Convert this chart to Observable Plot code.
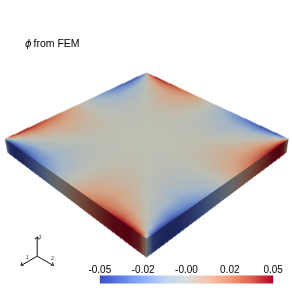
<!DOCTYPE html>
<html><head><meta charset="utf-8">
<style>html,body{margin:0;padding:0;background:#fff}svg{display:block;background:#fff}#chart{width:292px;height:292px;overflow:hidden}</style>
<script src="https://cdn.jsdelivr.net/npm/d3@7"></script>
<script src="https://cdn.jsdelivr.net/npm/@observablehq/plot@0.6"></script>
</head><body><div id="chart"></div>
<script>
const titleText = "from FEM";
const titleSymbol = "ϕ";
const tickValues = [-0.05, -0.025, 0, 0.025, 0.05];
const tickLabels = ["-0.05", "-0.02", "-0.00", "0.02", "0.05"];
const colorStops = [-0.05, -0.0375, -0.025, -0.0125, 0, 0.0125, 0.025, 0.0375, 0.05];
const colorRange = ["#3b4cc0", "#6282ea", "#8db0fe", "#c0d4f5", "#dddddd", "#f5c4ad", "#f49a7b", "#de604d", "#b40426"];
const knots = [0, .03, .08, .16, .28, .4, .5, .6, .72, .84, .92, .97, 1];
// field on the top face, in hundredths, read along the plate's two edge directions
const phiRows = [
 [0,4.2,5,4.8,3.5,1.7,0,-1.7,-3.5,-4.8,-5,-4.2,0],
 [-4.2,0,2,3,2.5,1.3,0,-1.3,-2.5,-3,-2,0,4.2],
 [-5,-2,0,1.2,1.6,1,0,-1,-1.6,-1.2,0,2,5],
 [-4.8,-3,-1.2,0,.8,.55,0,-.55,-.8,0,1.2,3,4.8],
 [-3.5,-2.5,-1.6,-.8,0,.15,0,-.15,0,.8,1.6,2.5,3.5],
 [-1.7,-1.3,-1,-.55,-.15,0,0,0,.15,.55,1,1.3,1.7],
 [0,0,0,0,0,0,0,0,0,0,0,0,0],
 [1.7,1.3,1,.55,.15,0,0,0,-.15,-.55,-1,-1.3,-1.7],
 [3.5,2.5,1.6,.8,0,-.15,0,.15,0,-.8,-1.6,-2.5,-3.5],
 [4.8,3,1.2,0,-.8,-.55,0,.55,.8,0,-1.2,-3,-4.8],
 [5,2,0,-1.2,-1.6,-1,0,1,1.6,1.2,0,-2,-5],
 [4.2,0,-2,-3,-2.5,-1.3,0,1.3,2.5,3,2,0,-4.2],
 [0,-4.2,-5,-4.8,-3.5,-1.7,0,1.7,3.5,4.8,5,4.2,0]
];
const topFace = [[146,72],[288,138.3],[146,238],[4.3,138.3]];
const leftFace = [[4.3,138.3],[146,238],[146,257],[7,152]];
const rightFace = [[146,238],[288,138.3],[286,152],[146,257]];
const axisLinks = [
  {x1:36.7,y1:255.7,x2:36.7,y2:237.5,label:"3",lx:39.5,ly:237},
  {x1:36.7,y1:255.7,x2:21.5,y2:264.5,label:"1",lx:27,ly:257},
  {x1:36.7,y1:255.7,x2:52,y2:264.5,label:"2",lx:52,ly:258}
];

function solveHomography(q) {
  const [[x0,y0],[x1,y1],[x2,y2],[x3,y3]] = q;
  const dx1=x1-x2, dx2=x3-x2, sx=x0-x1+x2-x3, dy1=y1-y2, dy2=y3-y2, sy=y0-y1+y2-y3;
  const den=dx1*dy2-dx2*dy1;
  const g=(sx*dy2-dx2*sy)/den, h=(dx1*sy-sx*dy1)/den;
  const a=x1-x0+g*x1, b=x3-x0+h*x3, c=x0, d=y1-y0+g*y1, e=y3-y0+h*y3, f=y0;
  const A=e-f*h, B=c*h-b, C=b*f-c*e, D=f*g-d, E=a-c*g, F=c*d-a*f, G=d*h-e*g, H=b*g-a*h, I=a*e-b*d;
  return (x,y) => { const w=G*x+H*y+I; return [(A*x+B*y+C)/w, (D*x+E*y+F)/w]; };
}
const invTop = solveHomography(topFace), invLeft = solveHomography(leftFace), invRight = solveHomography(rightFace);
function sampleGrid(a, b) {
  const i = Math.min(d3.bisectRight(knots, a) - 1, knots.length - 2);
  const j = Math.min(d3.bisectRight(knots, b) - 1, knots.length - 2);
  const s = (a - knots[i]) / (knots[i+1] - knots[i]), t = (b - knots[j]) / (knots[j+1] - knots[j]);
  return 0.01 * ((1-t)*((1-s)*phiRows[j][i] + s*phiRows[j][i+1]) + t*((1-s)*phiRows[j+1][i] + s*phiRows[j+1][i+1]));
}
const inside = (u,v) => u >= 0 && u <= 1 && v >= 0 && v <= 1;
function plateValue(x, y) {
  let [u,v] = invTop(x,y);
  if (inside(u,v)) return sampleGrid(u,v);
  [u,v] = invLeft(x,y);
  if (inside(u,v)) return sampleGrid(u,1);
  [u,v] = invRight(x,y);
  if (inside(u,v)) return sampleGrid(1,1-u);
  return NaN;
}
const soften = (index, scales, values, dimensions, context, next) => {
  const g = next(index, scales, values, dimensions, context);
  g.style.filter = "blur(0.7px)";
  return g;
};
const closed = q => [...q, q[0]];
const color = {type:"linear", domain: colorStops, range: colorRange, clamp:true};
const fontFamily = "'Liberation Sans', Arial, sans-serif";

const main = Plot.plot({
  width:292, height:266, margin:0,
  style:{fontFamily, background:"#fff"},
  x:{domain:[0,292], range:[0,292], axis:null},
  y:{domain:[0,266], range:[0,266], axis:null},
  color,
  marks:[
    Plot.raster({fill:plateValue, x1:0, x2:292, y1:60, y2:266, pixelSize:1, imageRendering:"auto", render:soften}),
    Plot.line(closed(topFace), {fill:"rgb(219,219,206)", stroke:"none", mixBlendMode:"multiply"}),
    Plot.line(closed(leftFace), {fill:"rgb(118,118,118)", stroke:"none", mixBlendMode:"multiply"}),
    Plot.line(closed(rightFace), {fill:"rgb(118,118,118)", stroke:"none", mixBlendMode:"multiply"}),
    Plot.link(axisLinks, {x1:"x1",y1:"y1",x2:"x2",y2:"y2",stroke:"#111",strokeWidth:1,markerEnd:"arrow"}),
    Plot.text(axisLinks, {x:"lx",y:"ly",text:"label",fontSize:5,fontStyle:"italic",fill:"#333"}),
    Plot.text([titleSymbol], {x:[24.5],y:[43],text:d=>d,textAnchor:"start",fontSize:10,fontStyle:"italic",fontFamily:"'DejaVu Sans'",fill:"#000"}),
    Plot.text([titleText], {x:[33],y:[43],text:d=>d,textAnchor:"start",fontSize:10.5,fill:"#000"})
  ]
});
const bar = Plot.plot({
  width:292, height:26, marginTop:9, marginBottom:9, marginLeft:99.3, marginRight:19.3,
  style:{fontFamily, fontSize:"10px", background:"#fff", overflow:"visible"},
  x:{domain:[-0.05,0.05], axis:null},
  y:{domain:[0,1], axis:null},
  color,
  marks:[
    Plot.raster({fill:(x,y)=>x, x1:-0.05, x2:0.05, y1:0, y2:1, pixelSize:1}),
    Plot.axisX({anchor:"top", ticks:tickValues, tickSize:0, tickPadding:3, tickFormat:(d,i)=>tickLabels[i], fontSize:10, fill:"#000"})
  ]
});
const chart = document.getElementById("chart");
chart.append(main, bar);
</script></body></html>
